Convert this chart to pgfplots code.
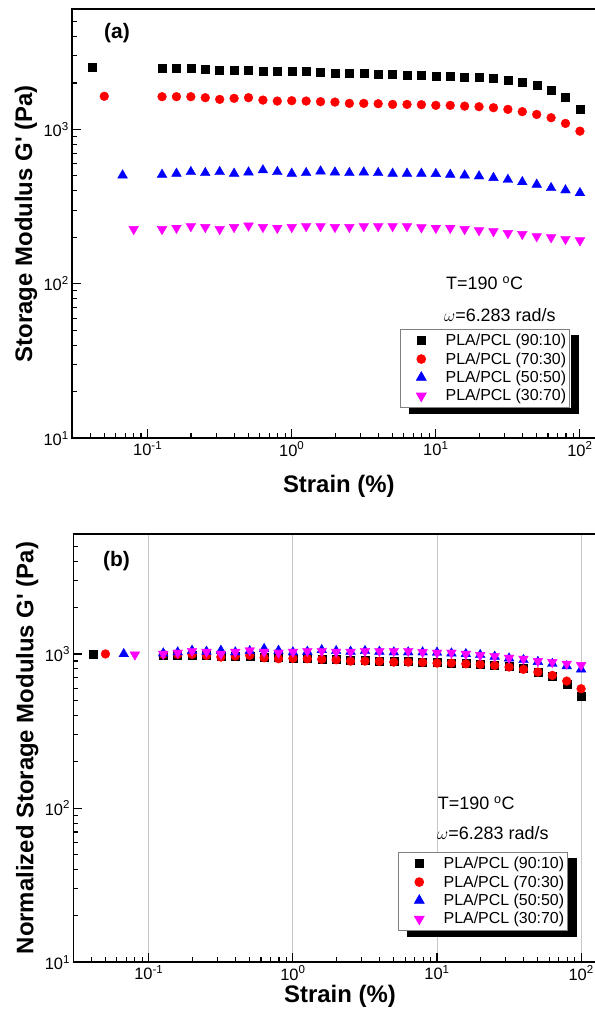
\documentclass[border=0pt]{standalone}
\usepackage{fontspec}
\setmainfont{Liberation Sans}
\usepackage{pgfplots}
\usepackage{pgfplotstable}
\pgfplotsset{compat=1.18}
\definecolor{mred}{RGB}{255,0,0}
\definecolor{mblue}{RGB}{0,0,255}
\definecolor{mmag}{RGB}{255,0,255}

\pgfplotstableread{
x a b
0.041 2520 1000
0.1259 2490 988
0.1585 2490 988
0.1995 2490 988
0.2512 2470 980
0.3162 2425 962
0.3981 2425 962
0.5012 2425 962
0.6310 2393 950
0.7943 2393 950
1 2380 944
1.259 2370 940
1.585 2333 926
1.995 2320 921
2.512 2310 917
3.162 2310 917
3.981 2277 904
5.012 2267 900
6.310 2256 895
7.943 2242 890
10 2220 881
12.59 2208 876
15.85 2186 867
19.95 2166 860
25.12 2134 847
31.62 2090 829
39.81 2028 805
50.12 1930 766
63.10 1800 714
79.43 1606 637
100 1349 535
}\tblack

\pgfplotstableread{
x a b
0.050 1640 1000
0.1259 1630 994
0.1585 1630 994
0.1995 1630 994
0.2512 1606 979
0.3162 1566 955
0.3981 1590 970
0.5012 1606 979
0.6310 1549 945
0.7943 1527 931
1 1535 936
1.259 1527 931
1.585 1513 923
1.995 1504 917
2.512 1475 899
3.162 1475 899
3.981 1468 895
5.012 1453 886
6.310 1453 886
7.943 1447 882
10 1432 873
12.59 1432 873
15.85 1416 863
19.95 1404 856
25.12 1383 843
31.62 1349 823
39.81 1304 795
50.12 1251 763
63.10 1191 726
79.43 1094 667
100 975 595
}\tred

\pgfplotstableread{
x a b
0.067 505 1000
0.1259 510 1010
0.1585 518 1026
0.1995 531 1051
0.2512 523 1036
0.3162 531 1051
0.3981 518 1026
0.5012 528 1046
0.6310 545 1079
0.7943 531 1051
1 518 1026
1.259 523 1036
1.585 536 1061
1.995 528 1046
2.512 523 1036
3.162 528 1046
3.981 523 1036
5.012 518 1026
6.310 518 1026
7.943 518 1026
10 516 1022
12.59 510 1010
15.85 505 1000
19.95 498 986
25.12 486 962
31.62 473 937
39.81 457 915
50.12 440 890
63.10 418 865
79.43 404 835
100 388 795
}\tblue

\pgfplotstableread{
x a b
0.080 226 990
0.1259 226 1000
0.1585 230 1018
0.1995 236 1044
0.2512 233 1031
0.3162 226 1000
0.3981 233 1031
0.5012 238 1053
0.6310 233 1031
0.7943 230 1018
1 233 1031
1.259 236 1044
1.585 236 1044
1.995 233 1031
2.512 233 1031
3.162 236 1044
3.981 236 1044
5.012 236 1044
6.310 236 1044
7.943 232 1027
10 230 1018
12.59 230 1018
15.85 226 1000
19.95 222 982
25.12 219 969
31.62 213 942
39.81 210 929
50.12 203 898
63.10 200 885
79.43 195 863
100 191 845
}\tmag

\pgfplotsset{
  every axis/.append style={
    xmode=log, ymode=log, scale only axis,
    width=533bp,
    xmin=0.03, xmax=150, ymin=10, ymax=6000,
    axis line style={line width=1.7bp},
    major tick length=9bp, minor tick length=5bp,
    tick align=inside,
    xtick pos=left, ytick pos=left,
    xtick={0.1,1,10,100},
    xticklabels={10\textsuperscript{-1},10\textsuperscript{0},10\textsuperscript{1},10\textsuperscript{2}},
    minor xtick={0.04,0.05,0.06,0.07,0.08,0.09,0.2,0.3,0.4,0.5,0.6,0.7,0.8,0.9,2,3,4,5,6,7,8,9,20,30,40,50,60,70,80,90},
    ytick={10,100,1000},
    yticklabels={10\textsuperscript{1},10\textsuperscript{2},10\textsuperscript{3}},
    minor ytick={20,30,40,50,60,70,80,90,200,300,400,500,600,700,800,900,2000,3000,4000,5000},
    tick style={line width=1.1bp, black},
    tick label style={font=\fontsize{16.5}{19}\selectfont},
    label style={font=\fontsize{24}{28}\selectfont\bfseries},
    legend cell align=left,
  },
  every axis x label/.style={at={(axis description cs:0.5,-0.1124)}, anchor=center},
  every axis y label/.style={at={(axis description cs:-0.087,0.5)}, rotate=90, anchor=center},
  sq/.style={only marks, mark=square*, mark size=4bp, color=black},
  ci/.style={only marks, mark=*, mark size=4.4bp, color=mred},
  tu/.style={only marks, mark=triangle*, mark size=5.6bp, color=mblue},
  td/.style={only marks, mark=triangle*, mark size=5.6bp, color=mmag, mark options={rotate=180}},
}

\begin{document}
\begin{tikzpicture}
\useasboundingbox (0,0) rectangle (595bp,1020bp);
\clip (0,0) rectangle (595bp,1020bp);

\begin{axis}[at={(72.3bp,581.7bp)}, anchor=south west, height=429bp,
  xlabel={Strain (\%)}, ylabel={Storage Modulus G\textquotesingle{} (Pa)},
  legend image code/.code={\path (0bp,0bp) (41bp,0bp); \draw[#1] plot coordinates {(18.5bp,0bp)};},
  legend style={name=legA, at={(axis description cs:0.6148,0.2548)}, anchor=north west,
    draw=gray, line width=0.8bp, fill=white,
    font=\fontsize{16}{19}\selectfont,
    inner xsep=2bp, inner ysep=2bp, row sep=0bp,
    nodes={inner xsep=1.5bp, inner ysep=2.7bp}}]
\addplot[sq] table[x=x,y=a] {\tblack};
\addplot[ci] table[x=x,y=a] {\tred};
\addplot[tu] table[x=x,y=a] {\tblue};
\addplot[td] table[x=x,y=a] {\tmag};
\legend{PLA/PCL (90:10),PLA/PCL (70:30),PLA/PCL (50:50),PLA/PCL (30:70)}
\end{axis}

\begin{axis}[at={(73.5bp,57.7bp)}, anchor=south west, height=428.3bp,
  xmajorgrids, major grid style={draw=black!22, line width=0.9bp},
  xlabel={Strain (\%)}, ylabel={Normalized Storage Modulus G\textquotesingle{} (Pa)},
  xlabel style={at={(axis description cs:0.5,-0.079)}},
  legend image code/.code={\path (0bp,0bp) (41bp,0bp); \draw[#1] plot coordinates {(18.5bp,0bp)};},
  legend style={name=legB, at={(axis description cs:0.6088,0.2575)}, anchor=north west,
    draw=gray, line width=0.8bp, fill=white,
    font=\fontsize{16}{19}\selectfont,
    inner xsep=2bp, inner ysep=2bp, row sep=0bp,
    nodes={inner xsep=1.5bp, inner ysep=2.7bp}}]
\addplot[sq] table[x=x,y=b] {\tblack};
\addplot[ci] table[x=x,y=b] {\tred};
\addplot[tu] table[x=x,y=b] {\tblue};
\addplot[td] table[x=x,y=b] {\tmag};
\legend{PLA/PCL (90:10),PLA/PCL (70:30),PLA/PCL (50:50),PLA/PCL (30:70)}
\end{axis}

% legend drop shadows (outside the legend boxes)
\fill[black] ([xshift=0.4bp,yshift=-6bp]legA.north east) rectangle ([xshift=9bp,yshift=-6bp]legA.south east);
\fill[black] ([xshift=9bp,yshift=-0.4bp]legA.south west) rectangle ([xshift=9bp,yshift=-6bp]legA.south east);
\fill[black] ([xshift=0.4bp,yshift=-6bp]legB.north east) rectangle ([xshift=9bp,yshift=-6bp]legB.south east);
\fill[black] ([xshift=9bp,yshift=-0.4bp]legB.south west) rectangle ([xshift=9bp,yshift=-6bp]legB.south east);

\node[font=\fontsize{21}{24}\selectfont\bfseries] at (117bp,987bp) {(a)};
\node[font=\fontsize{21}{24}\selectfont\bfseries] at (116.5bp,459bp) {(b)};
\node[anchor=west, font=\fontsize{18}{21}\selectfont, inner sep=0pt] at (446bp,737bp) {T=190 \textsuperscript{o}C};
\node[anchor=west, font=\fontsize{18}{21}\selectfont, inner sep=0pt] at (444bp,705bp) {$\omega$=6.283 rad/s};
\node[anchor=west, font=\fontsize{18}{21}\selectfont, inner sep=0pt] at (437.7bp,217bp) {T=190 \textsuperscript{o}C};
\node[anchor=west, font=\fontsize{18}{21}\selectfont, inner sep=0pt] at (437bp,187bp) {$\omega$=6.283 rad/s};
\end{tikzpicture}
\end{document}
